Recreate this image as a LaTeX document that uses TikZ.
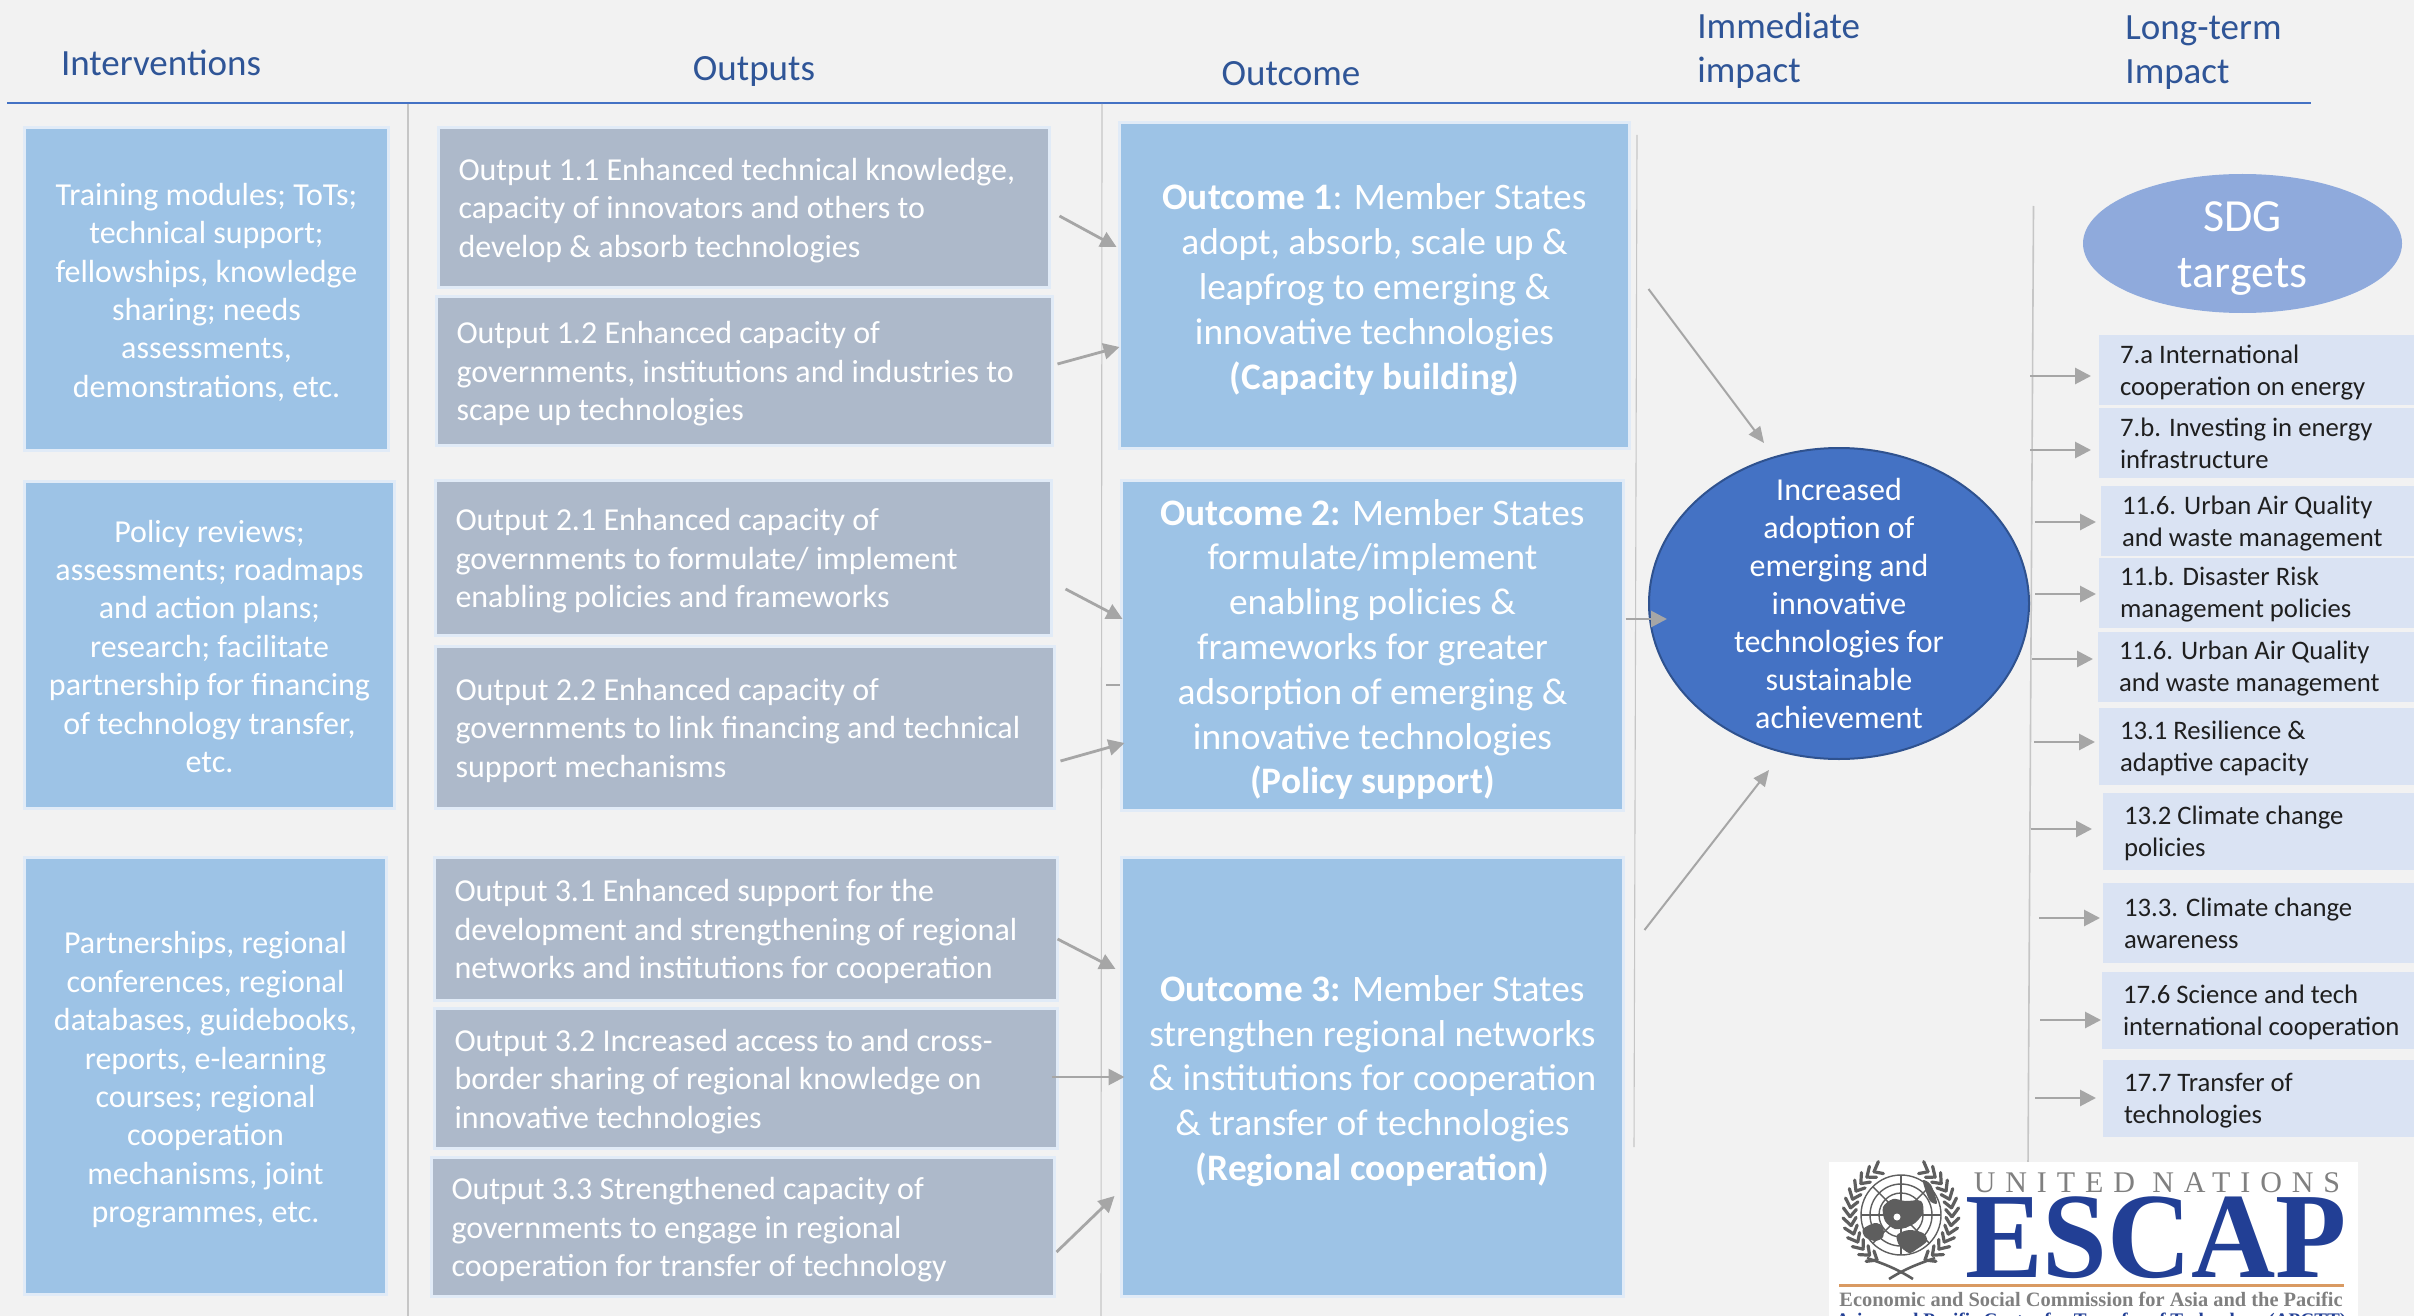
\documentclass[tikz,border=0pt]{standalone}
\usepackage{fontspec}
\setmainfont{Carlito}
\newfontfamily\logoserif{Liberation Serif}
\newfontfamily\logospaced[LetterSpace=33]{Liberation Serif}
\usetikzlibrary{arrows.meta,shapes.geometric,calc}
\definecolor{bgc}{HTML}{F2F2F2}
\definecolor{halo}{HTML}{E1EBF7}
\definecolor{skyc}{HTML}{9DC3E6}
\definecolor{slatec}{HTML}{ADB9CA}
\definecolor{palec}{HTML}{DAE3F3}
\definecolor{headc}{HTML}{2F5597}
\definecolor{rulec}{HTML}{4472C4}
\definecolor{vlinec}{HTML}{C6C6C6}
\definecolor{flowc}{HTML}{A6A6A6}
\definecolor{impc}{HTML}{4472C4}
\definecolor{impb}{HTML}{2F528F}
\definecolor{sdgc}{HTML}{8FAADC}
\definecolor{escapc}{HTML}{223F95}
\definecolor{orangec}{HTML}{D99A62}
\definecolor{greyc}{HTML}{808080}
\definecolor{emblemc}{HTML}{5E5E5E}
\tikzset{
  x=0.5pt,y=-0.5pt,
  haloed/.style={draw=halo,line width=1.5pt,inner sep=0pt,outer sep=0pt,text=white},
  interv/.style={haloed,fill=skyc,font=\fontsize{16}{19.2}\selectfont},
  outp/.style={haloed,fill=slatec,font=\fontsize{16}{19.2}\selectfont},
  outc/.style={haloed,fill=skyc,font=\fontsize{18.7}{22.4}\selectfont},
  tgt/.style={fill=palec,inner sep=0pt,outer sep=0pt,text=black!88,font=\fontsize{13.35}{16}\selectfont},
  head/.style={text=headc,inner sep=0pt,align=left,font=\fontsize{18.5}{22}\selectfont},
  vline/.style={draw=vlinec,line width=0.55pt},
  flow/.style={draw=flowc,line width=1.4pt,-{Triangle[length=8pt,width=8pt]}},
  thinflow/.style={draw=flowc,line width=1pt,-{Triangle[length=8pt,width=7pt]}},
  emb/.style={draw=emblemc,line width=0.7pt},
  leaf/.style={draw=emblemc,line width=1.6pt,line cap=round},
}
% boxes are given by the corners of their fill
\newcommand{\boxgeom}[5]{%
  \pgfmathsetmacro\bX{(#1+#3)/2}\pgfmathsetmacro\bY{(#2+#4)/2}%
  \pgfmathsetmacro\bW{(#3-#1+#5)*0.5}\pgfmathsetmacro\bH{(#4-#2+#5)*0.5}}
% centred text; the optional value pushes the lines down
\newcommand{\cbx}[8][4.6pt]{\boxgeom{#3}{#4}{#5}{#6}{3}%
  \node[#7,minimum width=\bW pt,minimum height=\bH pt] (#2) at (\bX,\bY)
    {\begin{tabular}[c]{@{}c@{}}\noalign{\vskip #1}#8\end{tabular}};}
\newcommand{\lbx}[7]{\boxgeom{#2}{#3}{#4}{#5}{3}%
  \node[#6,minimum width=\bW pt,minimum height=\bH pt] (#1) at (\bX,\bY)
    {\makebox[\bW pt][l]{\hspace{10pt}\begin{tabular}[c]{@{}l@{}}\noalign{\vskip 3.6pt}#7\end{tabular}}};}
\newcommand{\tgx}[6]{\boxgeom{#2}{#3}{#4}{#5}{0}%
  \node[tgt,minimum width=\bW pt,minimum height=\bH pt] (#1) at (\bX,\bY)
    {\makebox[\bW pt][l]{\hspace{10.5pt}\begin{tabular}[c]{@{}l@{}}\noalign{\vskip 3pt}#6\end{tabular}}};}
\begin{document}
\begin{tikzpicture}
\useasboundingbox (0,0) rectangle (2414,1316);
\fill[bgc] (0,0) rectangle (2414,1316);

% rules
\coordinate (ruleL) at (7,103);
\coordinate (ruleR) at (2311,103);
\draw[halo,line width=1.4pt] (ruleL) -- (ruleR);
\draw[rulec,line width=0.7pt] (ruleL) -- (ruleR);
\coordinate (v1t) at (408,104); \coordinate (v1b) at (408,1316);
\coordinate (v2t) at (1102,104); \coordinate (v2b) at (1101,1316);
\coordinate (v3t) at (1637,135); \coordinate (v3b) at (1634,1147);
\coordinate (v4t) at (2033.5,206); \coordinate (v4b) at (2028,1164);
\draw[vline] (v1t) -- (v1b);
\draw[vline] (v2t) -- (v2b);
\draw[vline] (v3t) -- (v3b);
\draw[vline,line width=0.8pt] (v4t) -- (v4b);

% headers
\node[head,anchor=center] (hInt) at (161,62.5) {Interventions};
\node[head,anchor=center] (hOut) at (754,71) {Outputs};
\node[head,anchor=center] (hOc) at (1291,73.5) {Outcome};
\node[head,anchor=west] (hImm) at (1697,51) {Immediate\\impact};
\node[head,anchor=west] (hLong) at (2125,53) {Long-term\\Impact};

% interventions
\cbx{i1}{26}{129}{387}{449}{interv}{Training modules; ToTs;\\technical support;\\fellowships, knowledge\\sharing; needs\\assessments,\\demonstrations, etc.}
\cbx{i2}{26}{483}{393}{807}{interv}{Policy reviews;\\assessments; roadmaps\\and action plans;\\research; facilitate\\partnership for financing\\of technology transfer,\\etc.}
\cbx{i3}{26}{859}{385}{1293}{interv}{Partnerships, regional\\conferences, regional\\databases, guidebooks,\\reports, e-learning\\courses; regional\\cooperation\\mechanisms, joint\\programmes, etc.}

% outputs
\lbx{o11}{440}{129}{1048}{286}{outp}{Output 1.1 Enhanced technical knowledge,\\capacity of innovators and others to\\develop \& absorb technologies}
\lbx{o12}{438}{298}{1051}{444}{outp}{Output 1.2 Enhanced capacity of\\governments, institutions and industries to\\scape up technologies}
\lbx{o21}{437}{482}{1050}{634}{outp}{Output 2.1 Enhanced capacity of\\governments to formulate/ implement\\enabling policies and frameworks}
\lbx{o22}{437}{648}{1053}{807}{outp}{Output 2.2 Enhanced capacity of\\governments to link financing and technical\\support mechanisms}
\lbx{o31}{436}{859}{1056}{999}{outp}{Output 3.1 Enhanced support for the\\development and strengthening of regional\\networks and institutions for cooperation}
\lbx{o32}{436}{1010}{1056}{1147}{outp}{Output 3.2 Increased access to and cross-\\border sharing of regional knowledge on\\innovative technologies}
\lbx{o33}{433}{1159}{1053}{1295}{outp}{Output 3.3 Strengthened capacity of\\governments to engage in regional\\cooperation for transfer of technology}

% outcomes
\cbx[5pt]{oc1}{1121}{124}{1628}{447}{outc}{\textbf{Outcome 1}: Member States\\adopt, absorb, scale up \&\\leapfrog to emerging \&\\innovative technologies\\\textbf{(Capacity building)}}
\cbx[5pt]{oc2}{1123}{482}{1622}{809}{outc}{\textbf{Outcome 2:} Member States\\formulate/implement\\enabling policies \&\\frameworks for greater\\adsorption of emerging \&\\innovative technologies\\\textbf{(Policy support)}}
\cbx[5pt]{oc3}{1123}{859}{1622}{1295}{outc}{\textbf{Outcome 3:} Member States\\strengthen regional networks\\\& institutions for cooperation\\\& transfer of technologies\\\textbf{(Regional cooperation)}}

% immediate impact
\node[ellipse,draw=impb,line width=1pt,fill=impc,inner sep=0pt,outer sep=0pt,
  minimum width=190pt,minimum height=155.5pt] (imp) at (1839,603.5) {};
\node[text=white,inner sep=0pt,align=center,font=\fontsize{16}{19.05}\selectfont]
  (impT) at (imp.center) {Increased\\adoption of\\emerging and\\innovative\\technologies for\\sustainable\\achievement};

% SDG ellipse
\node[ellipse,fill=sdgc,inner sep=0pt,outer sep=0pt,
  minimum width=159.5pt,minimum height=69.5pt] (sdg) at (2242.5,243.5) {};
\node[text=white,inner sep=0pt,align=center,font=\fontsize{23}{28}\selectfont]
  (sdgT) at (2242.5,249) {SDG\\targets};

% SDG target boxes
\tgx{s1}{2099}{339}{2414}{401}{7.a International\\cooperation on energy}
\tgx{s2}{2099}{412}{2414}{474}{7.b. Investing in energy\\infrastructure}
\tgx{s3}{2101}{490}{2414}{552}{11.6. Urban Air Quality\\and waste management}
\tgx{s4}{2099}{564}{2414}{621}{11.b. Disaster Risk\\management policies}
\tgx{s5}{2098}{632}{2414}{701}{11.6. Urban Air Quality\\and waste management}
\tgx{s6}{2099}{708}{2414}{785}{13.1 Resilience \&\\adaptive capacity}
\tgx{s7}{2103}{793}{2414}{870}{13.2 Climate change\\policies}
\tgx{s8}{2103}{883}{2414}{963}{13.3. Climate change\\awareness}
\tgx{s9}{2102}{972}{2414}{1049}{17.6 Science and tech\\international cooperation}
\tgx{s10}{2103}{1060}{2414}{1137}{17.7 Transfer of\\technologies}

% output to outcome arrows
\draw[flow] ([shift={(10,8.5)}]o11.east) -- ([shift={(-3,-38.5)}]oc1.west);
\draw[flow] ([shift={(5,-7)}]o12.east) -- ([shift={(0,61.5)}]oc1.west);
\draw[flow] ([shift={(14,31)}]o21.east) -- ([shift={(1,-26.5)}]oc2.west);
\draw[flow] ([shift={(6,33.5)}]o22.east) -- ([shift={(3,97.5)}]oc2.west);
\draw[flow] ([shift={(0,10)}]o31.east) -- ([shift={(-6,-108)}]oc3.west);
\draw[flow] ([shift={(-6,-1.5)}]o32.east) -- ([shift={(3,0)}]oc3.west);
\draw[flow] ([shift={(2,25)}]o33.east) -- ([shift={(-7,119)}]oc3.west);
% stray dash left of outcome 2
\coordinate (dashL) at (1106,685); \coordinate (dashR) at (1120,685);
\draw[draw=flowc,line width=1.2pt] (dashL) -- (dashR);

% outcome to impact arrows
\draw[thinflow] ([shift={(19,3.5)}]oc1.east) -- ([shift={(-75,-5)}]imp.north);
\draw[flow] ([shift={(2,-26.5)}]oc2.east) -- ([shift={(18,15.5)}]imp.west);
\draw[thinflow] ([shift={(21,-147)}]oc3.east) -- ([shift={(-70,11)}]imp.south);

% arrows to SDG targets
\draw[flow] ([shift={(-69,6)}]s1.west) -- ([shift={(-8,6)}]s1.west);
\draw[flow] ([shift={(-69,7)}]s2.west) -- ([shift={(-8,7)}]s2.west);
\draw[flow] ([shift={(-66,1)}]s3.west) -- ([shift={(-5,1)}]s3.west);
\draw[flow] ([shift={(-64,1.5)}]s4.west) -- ([shift={(-3,1.5)}]s4.west);
\draw[flow] ([shift={(-66,-7.5)}]s5.west) -- ([shift={(-5,-7.5)}]s5.west);
\draw[flow] ([shift={(-65,-4.5)}]s6.west) -- ([shift={(-4,-4.5)}]s6.west);
\draw[flow] ([shift={(-72,-2.5)}]s7.west) -- ([shift={(-11,-2.5)}]s7.west);
\draw[flow] ([shift={(-64,-5)}]s8.west) -- ([shift={(-3,-5)}]s8.west);
\draw[flow] ([shift={(-62,9.5)}]s9.west) -- ([shift={(-1,9.5)}]s9.west);
\draw[flow] ([shift={(-68,-0.5)}]s10.west) -- ([shift={(-7,-0.5)}]s10.west);

% logo
\fill[white] (1829,1162) rectangle (2358,1316);
\begin{scope}[shift={(1901,1215)}]
  \foreach \r in {13,22,31,40} \draw[emb] (0,0) circle[radius=\r];
  \foreach \a in {0,45,90,135} \draw[emb] (\a:40) -- (\a+180:40);
  % land masses
  \fill[emblemc] plot[smooth cycle] coordinates {(-18,-8)(-8,-16)(4,-14)(20,-14)(22,-2)(14,8)(6,12)(-6,14)(-16,6)};
  \fill[white] (-4,2) circle[radius=3.5];
  \fill[emblemc] plot[smooth cycle] coordinates {(-38,14)(-26,8)(-18,12)(-18,22)(-26,26)(-36,22)};
  \fill[emblemc] plot[smooth cycle] coordinates {(-4,20)(8,15)(22,18)(26,26)(16,34)(8,38)(-2,30)};
  \fill[emblemc] plot[smooth cycle] coordinates {(22,-35)(30,-30)(36,-12)(29,-14)(24,-26)};
  % wreath
  \foreach \a in {118,128,...,238} {
    \draw[leaf] (\a:51) -- (\a+9:45);
    \draw[leaf] (\a:51) -- (\a+9:58);
    \draw[leaf] (180-\a:51) -- (171-\a:45);
    \draw[leaf] (180-\a:51) -- (171-\a:58);
  }
  \draw[emblemc,line width=1.3pt] (-34,43) .. controls (-14,50) and (-4,54) .. (12,64);
  \draw[emblemc,line width=1.3pt] (34,43) .. controls (14,50) and (4,54) .. (-12,64);
\end{scope}
\node[inner sep=0pt,anchor=center,text=greyc,font=\logospaced\fontsize{15}{15}\selectfont] (lgA) at (2157,1183) {UNITED NATIONS};
\node[inner sep=0pt,anchor=center,text=escapc,xscale=0.955,font=\logoserif\bfseries\fontsize{61}{61}\selectfont] (lgB) at (2156,1238) {ESCAP};
\coordinate (lgL) at (1839,1285); \coordinate (lgR) at (2344,1285);
\draw[orangec,line width=1.5pt] (lgL) -- (lgR);
\node[inner sep=0pt,anchor=center,text=greyc,font=\logoserif\bfseries\fontsize{10.2}{11}\selectfont] (lgC) at (2091,1299) {Economic and Social Commission for Asia and the Pacific};
\node[inner sep=0pt,anchor=center,text=escapc,font=\logoserif\bfseries\fontsize{9.6}{11}\selectfont] (lgD) at (2091,1322) {Asian and Pacific Centre for Transfer of Technology (APCTT)};
\end{tikzpicture}
\end{document}
